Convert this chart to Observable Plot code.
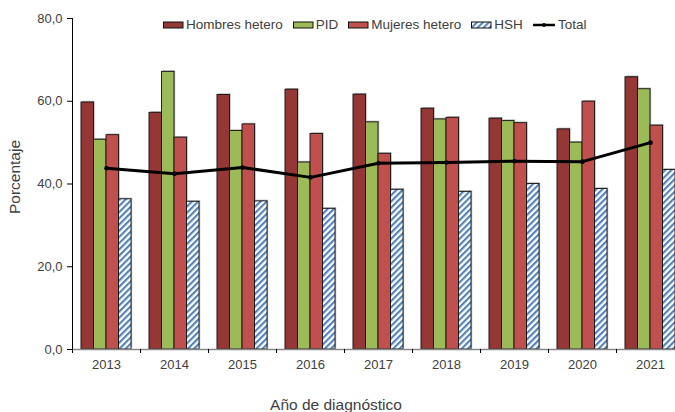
<!DOCTYPE html>
<html>
<head>
<meta charset="utf-8">
<script src="https://cdn.jsdelivr.net/npm/d3@7"></script>
<script src="https://cdn.jsdelivr.net/npm/@observablehq/plot@0.6"></script>
<style>
  html, body { margin: 0; padding: 0; background: #fff; }
  #wrap { position: relative; width: 675px; height: 412px; overflow: hidden; font-family: "Liberation Sans", Arial, sans-serif; color: #404040; }
  #legend { position: absolute; left: 163px; top: 17px; display: flex; align-items: center; font-size: 13.5px; white-space: nowrap; }
  #legend .item { display: flex; align-items: center; margin-right: 10px; }
  #legend svg { margin-right: 2px; display: block; }
  #xtitle { position: absolute; top: 396px; left: 0; width: 672px; text-align: center; font-size: 15.5px; }
  #ytitle { position: absolute; left: 15px; top: 177px; transform: translate(-50%, -50%) rotate(-90deg); font-size: 15.5px; white-space: nowrap; }
</style>
</head>
<body>
<div id="wrap">
  <div id="chart"></div>
  <div id="legend"></div>
  <div id="xtitle">Año de diagnóstico</div>
  <div id="ytitle">Porcentaje</div>
</div>
<script>
const years = [2013, 2014, 2015, 2016, 2017, 2018, 2019, 2020, 2021];
const hombresHetero = [59.7, 57.2, 61.5, 62.8, 61.6, 58.2, 55.8, 53.2, 65.8];
const pid = [50.7, 67.1, 52.8, 45.2, 54.9, 55.6, 55.2, 50.0, 62.9];
const mujeresHetero = [51.8, 51.2, 54.4, 52.1, 47.3, 56.0, 54.7, 59.9, 54.1];
const hsh = [36.3, 35.7, 35.8, 34.0, 38.6, 38.1, 40.0, 38.8, 43.4];
const total = [43.8, 42.5, 44.0, 41.6, 45.0, 45.2, 45.5, 45.4, 50.0];
const seriesNames = ["Hombres hetero", "PID", "Mujeres hetero", "HSH"];
const yTicks = [0, 20, 40, 60, 80];

const seriesValues = [hombresHetero, pid, mujeresHetero, hsh];
const fills = ["#953735", "#9BBB59", "#C0504D", "url(#hshPattern)"];

// grouped-bar layout within each year's unit band
const groupInset = 0.132;
const barW = (1 - 2 * groupInset) / seriesNames.length;
const barTable = [];
seriesNames.forEach((name, i) => {
  years.forEach((yr, j) => {
    const x1 = yr - 0.5 + groupInset + i * barW;
    barTable.push({series: name, year: yr, value: seriesValues[i][j], x1, x2: x1 + barW});
  });
});
const totalTable = years.map((yr, j) => ({year: yr, value: total[j]}));
const boundaries = years.map(y => y - 0.5).concat([years[years.length - 1] + 0.5]);

const plot = Plot.plot({
  width: 675,
  height: 412,
  marginTop: 18,
  marginBottom: 63,
  marginLeft: 72,
  marginRight: 0,
  style: {fontFamily: "'Liberation Sans', Arial, sans-serif", fontSize: "13px", color: "#404040", background: "white"},
  x: {type: "linear", domain: [boundaries[0], boundaries[boundaries.length - 1]], range: [72, 684]},
  y: {domain: [0, 80], range: [349, 18]},
  color: {domain: seriesNames, range: fills},
  marks: [
    // shadows
    Plot.rectY(barTable, {x1: "x1", x2: "x2", y1: 0, y2: "value", fill: "#b5b5b5", dx: 1.2, dy: -1.2}),
    Plot.rectY(barTable, {x1: "x1", x2: "x2", y1: 0, y2: "value", fill: "series", stroke: "#111", strokeWidth: 0.9}),
    Plot.line(totalTable, {x: "year", y: "value", stroke: "#000", strokeWidth: 3}),
    Plot.dot(totalTable, {x: "year", y: "value", fill: "#000", r: 2.3}),
    Plot.ruleY([0], {stroke: "#888", strokeWidth: 1.6}),
    Plot.ruleX([boundaries[0]], {y1: 0, y2: 80, stroke: "#000", strokeWidth: 1}),
    Plot.axisY({ticks: yTicks, tickFormat: d => d.toFixed(1).replace(".", ","), tickSize: 5, tickPadding: 5, stroke: "#000",
      label: null, fontSize: 13}),
    Plot.axisX({ticks: boundaries, tickFormat: () => "", tickSize: 4, stroke: "#000", label: null}),
    Plot.axisX({ticks: years, tickFormat: d => String(d), tickSize: 0, tickPadding: 10, label: null, fontSize: 13})
  ]
});

// hatch pattern for HSH
const svg = d3.select(plot);
const defs = svg.insert("defs", ":first-child");
const pat = defs.append("pattern").attr("id", "hshPattern").attr("patternUnits", "userSpaceOnUse")
  .attr("width", 4.4).attr("height", 4.4).attr("patternTransform", "rotate(45)");
pat.append("rect").attr("width", 4.4).attr("height", 4.4).attr("fill", "#fff");
pat.append("rect").attr("width", 2.1).attr("height", 4.4).attr("fill", "#4F81BD");

document.getElementById("chart").appendChild(plot);

// legend
const legend = d3.select("#legend");
seriesNames.forEach((name, i) => {
  const item = legend.append("div").attr("class", "item");
  const s = item.append("svg").attr("width", 21).attr("height", 8);
  if (i === 3) {
    const d = s.append("defs").append("pattern").attr("id", "hshLeg").attr("patternUnits", "userSpaceOnUse")
      .attr("width", 4.2).attr("height", 4.2).attr("patternTransform", "rotate(45)");
    d.append("rect").attr("width", 4.2).attr("height", 4.2).attr("fill", "#fff");
    d.append("rect").attr("width", 2).attr("height", 4.2).attr("fill", "#4F81BD");
  }
  s.append("rect").attr("x", 0.5).attr("y", 1).attr("width", 19.5).attr("height", 6)
    .attr("fill", i === 3 ? "url(#hshLeg)" : fills[i]).attr("stroke", "#111").attr("stroke-width", 1);
  item.append("span").text(name);
});
const tItem = legend.append("div").attr("class", "item");
const ts = tItem.append("svg").attr("width", 23).attr("height", 8);
ts.append("line").attr("x1", 0).attr("x2", 22).attr("y1", 4).attr("y2", 4).attr("stroke", "#000").attr("stroke-width", 2.5);
ts.append("circle").attr("cx", 11).attr("cy", 4).attr("r", 2).attr("fill", "#000");
tItem.append("span").text("Total");
</script>
</body>
</html>
